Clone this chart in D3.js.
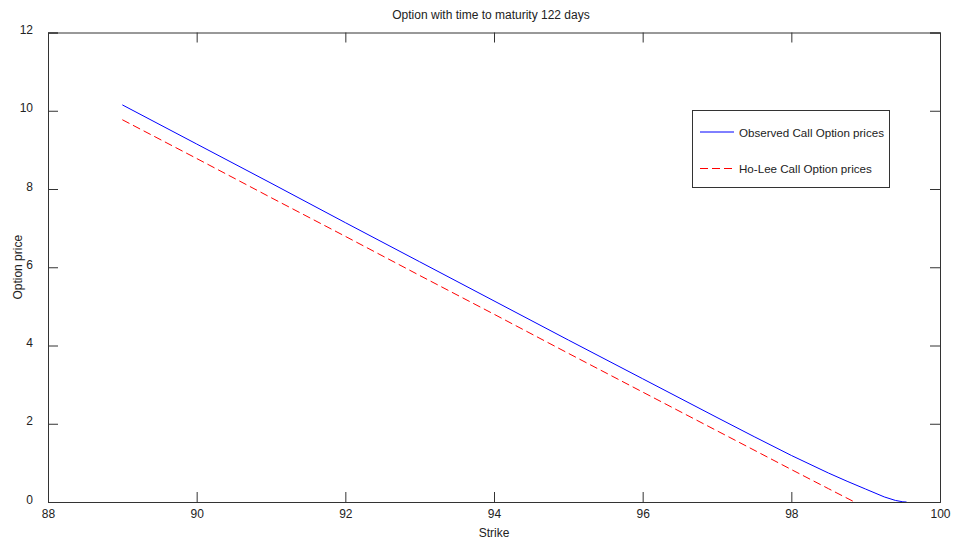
<!DOCTYPE html>
<html>
<head>
<meta charset="utf-8">
<script src="https://cdn.jsdelivr.net/npm/d3@7"></script>
<style>
  html, body { margin: 0; padding: 0; background: #fff; }
  svg { display: block; }
  text { font-family: "Liberation Sans", Arial, sans-serif; fill: #222; }
</style>
</head>
<body>
<svg id="chart" width="953" height="544"></svg>
<script>
// ---- data ----
const observedStrikes = [89, 90, 91, 92, 93, 94, 95, 96, 97, 97.5, 98, 98.5, 98.75, 99, 99.25, 99.4, 99.5, 99.55];
const observedPrices  = [10.15, 9.15, 8.15, 7.14, 6.14, 5.14, 4.14, 3.15, 2.16, 1.67, 1.19, 0.74, 0.53, 0.33, 0.13, 0.04, 0.005, 0];
const hoLeeStrikes = [89, 90, 91, 92, 93, 94, 95, 96, 97, 98, 98.5, 98.85];
const hoLeePrices  = [9.77, 8.78, 7.78, 6.79, 5.79, 4.8, 3.8, 2.81, 1.82, 0.83, 0.34, 0];
const xTicks = [88, 90, 92, 94, 96, 98, 100];
const yTicks = [0, 2, 4, 6, 8, 10, 12];
const titleText = "Option with time to maturity 122 days";
const xLabel = "Strike";
const yLabel = "Option price";
const seriesNames = ["Observed Call Option prices", "Ho-Lee Call Option prices"];

// ---- layout ----
const svg = d3.select("#chart");
const pLeft = 48, pRight = 940, pTop = 32.5, pBottom = 502;
const x = d3.scaleLinear().domain([88, 100]).range([pLeft, pRight]);
const y = d3.scaleLinear().domain([0, 12]).range([pBottom, pTop]);

const axisColor = "#333";
const g = svg.append("g");

// lines
const line = d3.line().x(d => x(d[0])).y(d => y(d[1]));
const obs = observedStrikes.map((s, i) => [s, observedPrices[i]]);
const hl = hoLeeStrikes.map((s, i) => [s, hoLeePrices[i]]);

g.append("path").datum(hl).attr("d", line)
  .attr("fill", "none").attr("stroke", "#ff0000").attr("stroke-width", 1)
  .attr("stroke-dasharray", "8,4");
g.append("path").datum(obs).attr("d", line)
  .attr("fill", "none").attr("stroke", "#0000ff").attr("stroke-width", 1);

// axes
const tickLen = 10;
const bottomAxis = d3.axisBottom(x).tickValues(xTicks).tickSize(-tickLen).tickPadding(14).tickFormat(d3.format("d"));
const topAxis = d3.axisTop(x).tickValues(xTicks).tickSize(-tickLen).tickFormat("");
const leftAxis = d3.axisLeft(y).tickValues(yTicks).tickSize(-tickLen).tickPadding(15).tickFormat(d3.format("d"));
const rightAxis = d3.axisRight(y).tickValues(yTicks).tickSize(-tickLen).tickFormat("");

function style(sel) {
  sel.selectAll("path.domain").attr("stroke", axisColor);
  sel.selectAll(".tick line").attr("stroke", axisColor);
  sel.selectAll(".tick text").attr("fill", "#222")
    .style("font-family", "'Liberation Sans', Arial, sans-serif").style("font-size", "12px");
}
g.append("g").attr("transform", `translate(0,${pBottom})`).call(bottomAxis).call(style)
  .selectAll(".tick text").attr("dy", "0.2em");
g.append("g").attr("transform", `translate(0,${pTop})`).call(topAxis).call(style);
g.append("g").attr("transform", `translate(${pLeft},0)`).call(leftAxis).call(style)
  .selectAll(".tick text").attr("dy", "0.1em");
g.append("g").attr("transform", `translate(${pRight},0)`).call(rightAxis).call(style);

// title and labels
svg.append("text").attr("x", (pLeft + pRight) / 2 - 3).attr("y", 19)
  .attr("text-anchor", "middle").style("font-size", "12px").text(titleText);
svg.append("text").attr("x", (pLeft + pRight) / 2).attr("y", 537)
  .attr("text-anchor", "middle").style("font-size", "12px").text(xLabel);
svg.append("text").attr("transform", `translate(22,${(pTop + pBottom) / 2}) rotate(-90)`)
  .attr("text-anchor", "middle").style("font-size", "12px").text(yLabel);

// legend
const lg = svg.append("g");
lg.append("rect").attr("x", 692.5).attr("y", 110.5).attr("width", 197).attr("height", 77)
  .attr("fill", "#fff").attr("stroke", axisColor);
const rows = [
  { name: seriesNames[0], color: "#0000ff", dash: null, y: 132 },
  { name: seriesNames[1], color: "#ff0000", dash: "8,4", y: 168.5 }
];
rows.forEach(r => {
  lg.append("line").attr("x1", 700).attr("x2", 734).attr("y1", r.y).attr("y2", r.y)
    .attr("stroke", r.color).attr("stroke-width", 1).attr("stroke-dasharray", r.dash);
  lg.append("text").attr("x", 739).attr("y", r.y + 4.5).style("font-size", "11.6px").text(r.name);
});
</script>
</body>
</html>
